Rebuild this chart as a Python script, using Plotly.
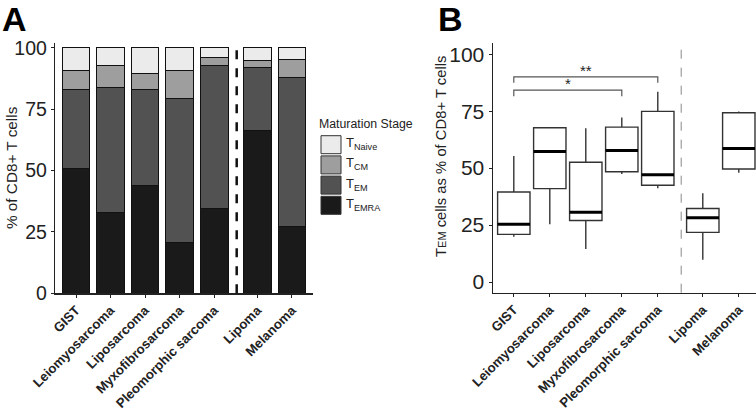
import plotly.graph_objects as go

# ---------------- data ----------------
categories = ["GIST", "Leiomyosarcoma", "Liposarcoma", "Myxofibrosarcoma",
              "Pleomorphic sarcoma", "Lipoma", "Melanoma"]

# Panel A: maturation stage composition (% of CD8+ T cells)
t_emra = [51.0, 32.8, 43.8, 20.5, 34.4, 66.2, 27.1]
t_em = [31.8, 50.9, 39.0, 58.7, 58.3, 25.9, 60.8]
t_cm = [8.0, 9.0, 6.6, 11.6, 3.5, 2.6, 7.4]
t_naive = [9.2, 7.3, 10.6, 9.2, 3.8, 5.3, 4.7]

# Panel B: TEM cells as % of CD8+ T cells (box statistics)
b_lower = [19.9, 25.4, 14.5, 47.4, 41.2, 9.8, 48.0]
b_q1 = [20.9, 41.0, 27.0, 48.4, 42.5, 21.8, 49.6]
b_median = [25.3, 57.3, 30.6, 57.7, 47.1, 28.2, 58.6]
b_q3 = [39.5, 67.7, 52.6, 68.0, 74.9, 32.3, 74.3]
b_upper = [55.3, 67.7, 67.5, 72.2, 83.5, 39.0, 74.9]

# significance brackets
sig_from = [0, 0]
sig_to = [3, 4]
sig_label = ["*", "**"]
sig_height = [84.2, 90.1]

# ---------------- layout helpers ----------------
pos = [1, 2, 3, 4, 5, 6.25, 7.25]
sep = 5.65
FONT = "Liberation Sans, Arial, sans-serif"
W, H = 756, 411

fig = go.Figure()

stages = [
    ("T<sub>EMRA</sub>", t_emra, "#1a1a1a"),
    ("T<sub>EM</sub>", t_em, "#525252"),
    ("T<sub>CM</sub>", t_cm, "#9e9e9e"),
    ("T<sub>Naive</sub>", t_naive, "#ebebeb"),
]
for name, vals, col in stages:
    fig.add_trace(go.Bar(
        x=pos, y=vals, name=name, width=0.8,
        marker=dict(color=col, line=dict(color="#111111", width=1)),
        xaxis="x", yaxis="y", hoverinfo="skip", showlegend=False,
    ))

# legend drawn as keys + labels (top entry = Naive)
leg_x0, leg_top, leg_pitch, key_w, key_h = 321, 135.7, 20.2, 20, 18
fig.add_annotation(x=317 / W, y=1 - 124 / H, xref="paper", yref="paper",
                   text="Maturation Stage", showarrow=False,
                   xanchor="left", yanchor="middle",
                   font=dict(family=FONT, size=12.3, color="#222222"))
for i, (name, vals, col) in enumerate(reversed(stages)):
    top = leg_top + i * leg_pitch
    fig.add_shape(type="rect", xref="paper", yref="paper",
                  x0=leg_x0 / W, x1=(leg_x0 + key_w) / W,
                  y0=1 - (top + key_h) / H, y1=1 - top / H,
                  fillcolor=col, line=dict(color="#333333", width=1))
    fig.add_annotation(x=(leg_x0 + key_w + 3) / W, y=1 - (top + key_h / 2 - 1) / H,
                       xref="paper", yref="paper", text=name, showarrow=False,
                       xanchor="left", yanchor="middle",
                       font=dict(family=FONT, size=13, color="#222222"))

# Panel B boxes
fig.add_trace(go.Box(
    x=pos, q1=b_q1, median=b_median, q3=b_q3,
    lowerfence=b_lower, upperfence=b_upper,
    width=0.9, whiskerwidth=0, fillcolor="white",
    line=dict(color="#333333", width=1.4),
    xaxis="x2", yaxis="y2", showlegend=False, hoverinfo="skip",
))

# thick median lines
mx, my = [], []
for p, m in zip(pos, b_median):
    mx += [p - 0.45, p + 0.45, None]
    my += [m, m, None]
fig.add_trace(go.Scatter(
    x=mx, y=my, mode="lines", line=dict(color="#000000", width=3),
    xaxis="x2", yaxis="y2", showlegend=False, hoverinfo="skip",
))

# significance brackets
tick_drop = 2.6
for a, b, lab, h in zip(sig_from, sig_to, sig_label, sig_height):
    fig.add_trace(go.Scatter(
        x=[pos[a], pos[a], pos[b], pos[b]],
        y=[h - tick_drop, h, h, h - tick_drop],
        mode="lines", line=dict(color="#555555", width=1.2),
        xaxis="x2", yaxis="y2", showlegend=False, hoverinfo="skip",
    ))
    fig.add_annotation(
        x=(pos[a] + pos[b]) / 2, y=h, xref="x2", yref="y2",
        text=lab, showarrow=False, yanchor="bottom",
        font=dict(family=FONT, size=15, color="#222222"), yshift=-4,
    )

# separators
fig.add_shape(type="line", xref="x", yref="y domain", x0=sep, x1=sep, y0=0, y1=1,
              line=dict(color="#111111", width=2.5, dash="dash"))
fig.add_shape(type="line", xref="x2", yref="y2 domain", x0=sep, x1=sep, y0=0, y1=1,
              line=dict(color="#888888", width=1, dash="dash"))

# panel letters
fig.add_annotation(x=0.0, y=1.0, xref="paper", yref="paper", text="<b>A</b>",
                   showarrow=False, xanchor="left", yanchor="top", yshift=2,
                   font=dict(family=FONT, size=34, color="#000000"))
fig.add_annotation(x=0.577, y=1.0, xref="paper", yref="paper", text="<b>B</b>",
                   showarrow=False, xanchor="left", yanchor="top", yshift=2,
                   font=dict(family=FONT, size=34, color="#000000"))

# axis titles
fig.add_annotation(x=12 / W, y=1 - 168 / H, xref="paper", yref="paper",
                   text="% of CD8+ T cells", showarrow=False, textangle=-90,
                   xanchor="center", yanchor="middle",
                   font=dict(family=FONT, size=15.3, color="#222222"))
fig.add_annotation(x=441 / W, y=1 - 157 / H, xref="paper", yref="paper",
                   text="T<span style='font-size:11px'>EM</span> cells as % of CD8+ T cells",
                   showarrow=False, textangle=-90,
                   xanchor="center", yanchor="middle",
                   font=dict(family=FONT, size=14.8, color="#222222"))

axis_common = dict(showline=True, linecolor="#222222", linewidth=1.2,
                   ticks="outside", ticklen=3, tickcolor="#222222",
                   showgrid=False, zeroline=False, automargin=False)

fig.update_layout(
    width=W, height=H,
    margin=dict(l=0, r=0, t=0, b=0, autoexpand=False),
    paper_bgcolor="white", plot_bgcolor="white",
    barmode="stack", bargap=0, showlegend=False,
    font=dict(family=FONT, color="#222222"),
    xaxis=dict(domain=[55 / W, 313 / W], range=[0.392, 7.858], anchor="y",
               tickvals=pos, ticktext=categories, tickangle=-45,
               tickfont=dict(size=13.2, weight=700, color="#222222"),
               **axis_common),
    yaxis=dict(domain=[1 - 293.3 / H, 1 - 43.3 / H], range=[0, 101.8], anchor="x",
               tickvals=[0, 25, 50, 75, 100],
               tickfont=dict(size=19.5, color="#222222"),
               **axis_common),
    xaxis2=dict(domain=[492.7 / W, 1.0], range=[0.414, 7.728], anchor="y2",
                tickvals=pos, ticktext=categories, tickangle=-45,
                tickfont=dict(size=13.2, weight=700, color="#222222"),
                **axis_common),
    yaxis2=dict(domain=[1 - 292.7 / H, 1 - 43.3 / H], range=[-4.7, 104.8], anchor="x2",
                tickvals=[0, 25, 50, 75, 100],
                tickfont=dict(size=21, color="#222222"),
                **axis_common),
)

fig.write_html(
    "out.html",
    config={"displayModeBar": False, "staticPlot": True},
    post_script="document.body.style.margin='0px';document.body.style.overflow='hidden';",
)
